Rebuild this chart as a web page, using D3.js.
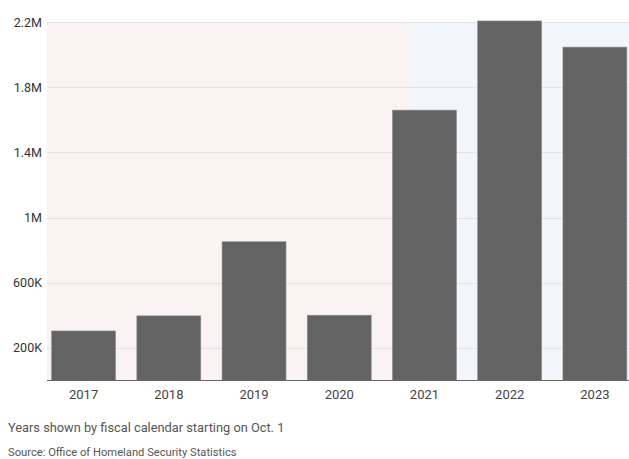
<!DOCTYPE html>
<html>
<head>
<meta charset="utf-8">
<script src="https://cdn.jsdelivr.net/npm/d3@7"></script>
<style>
  body { margin: 0; background: #fff; }
  svg text { font-family: "Roboto", "Liberation Sans", sans-serif; }
</style>
</head>
<body>
<div class="chart"></div>
<script>
// fiscal years and southwest border encounters
var years = ["2017", "2018", "2019", "2020", "2021", "2022", "2023"];
var encounters = [303916, 396579, 851508, 400651, 1659206, 2206436, 2045838];
var yTicks = [200000, 600000, 1000000, 1400000, 1800000, 2200000];
var yTickLabels = ["200K", "600K", "1M", "1.4M", "1.8M", "2.2M"];
// shading changes part way through fiscal 2021
var shadeSplitYear = "2021";
var shadeSplitFraction = 0.32;
var note = "Years shown by fiscal calendar starting on Oct. 1";
var source = "Source: Office of Homeland Security Statistics";

var svgWidth = 629;
var svgHeight = 459;
var margin = { top: 22, left: 41, bottom: 78, right: 0 };
var plotRight = 637.5;
var gridLeft = 47;

var svg = d3.select(".chart")
  .append("svg")
  .attr("width", svgWidth)
  .attr("height", svgHeight);

var data = years.map(function(y, i) {
  return { year: y, value: encounters[i] };
});

var x = d3.scaleBand()
  .domain(years)
  .range([margin.left, plotRight])
  .paddingInner(0.25)
  .paddingOuter(0.125);

var y = d3.scaleLinear()
  .domain([0, 2200000])
  .range([svgHeight - margin.bottom - 0.5, margin.top]);

var step = x.step();
var splitX = x(shadeSplitYear) - step * 0.125 + step * shadeSplitFraction;

// background shading
svg.append("rect")
  .attr("x", gridLeft)
  .attr("y", y(2200000))
  .attr("width", splitX - gridLeft)
  .attr("height", y(0) - y(2200000))
  .attr("fill", "#faf3f3");

svg.append("rect")
  .attr("x", splitX)
  .attr("y", y(2200000))
  .attr("width", plotRight - splitX)
  .attr("height", y(0) - y(2200000))
  .attr("fill", "#f2f6fa");

// gridlines
svg.append("g")
  .selectAll("line")
  .data(yTicks)
  .enter()
  .append("line")
  .attr("x1", gridLeft)
  .attr("x2", plotRight)
  .attr("y1", function(d) { return Math.round(y(d)) + 0.5; })
  .attr("y2", function(d) { return Math.round(y(d)) + 0.5; })
  .attr("stroke", "#e3e3e3")
  .attr("stroke-width", 1);

// y axis labels
var leftAxis = d3.axisLeft(y)
  .tickValues(yTicks)
  .tickFormat(function(d, i) { return yTickLabels[i]; })
  .tickSize(0)
  .tickPadding(0);

var yAxis = svg.append("g")
  .attr("transform", "translate(" + (margin.left + 1) + ",0)")
  .call(leftAxis);
yAxis.select(".domain").remove();
yAxis.selectAll("text")
  .attr("fill", "#333")
  .style("font-size", "12.5px");

// bars
svg.append("g")
  .selectAll("rect")
  .data(data)
  .enter()
  .append("rect")
  .attr("x", function(d) { return x(d.year); })
  .attr("y", function(d) { return y(d.value); })
  .attr("width", x.bandwidth())
  .attr("height", function(d) { return y(0) - y(d.value); })
  .attr("fill", "#636363")
  .attr("stroke", "#8a8a8a")
  .attr("stroke-width", 0.6);

// baseline
svg.append("line")
  .attr("x1", gridLeft)
  .attr("x2", plotRight)
  .attr("y1", y(0))
  .attr("y2", y(0))
  .attr("stroke", "#666")
  .attr("stroke-width", 1.2);

// x axis labels
var bottomAxis = d3.axisBottom(x).tickSize(0).tickPadding(0);
var xAxis = svg.append("g")
  .attr("transform", "translate(0," + (y(0) + 9) + ")")
  .call(bottomAxis);
xAxis.select(".domain").remove();
xAxis.selectAll("text")
  .attr("fill", "#444")
  .style("font-size", "13px");

// footnotes
svg.append("text")
  .attr("x", 8)
  .attr("y", 432)
  .attr("fill", "#555")
  .style("font-size", "12.8px")
  .text(note);

svg.append("text")
  .attr("x", 8)
  .attr("y", 456)
  .attr("fill", "#555")
  .style("font-size", "11.2px")
  .text(source);
</script>
</body>
</html>
